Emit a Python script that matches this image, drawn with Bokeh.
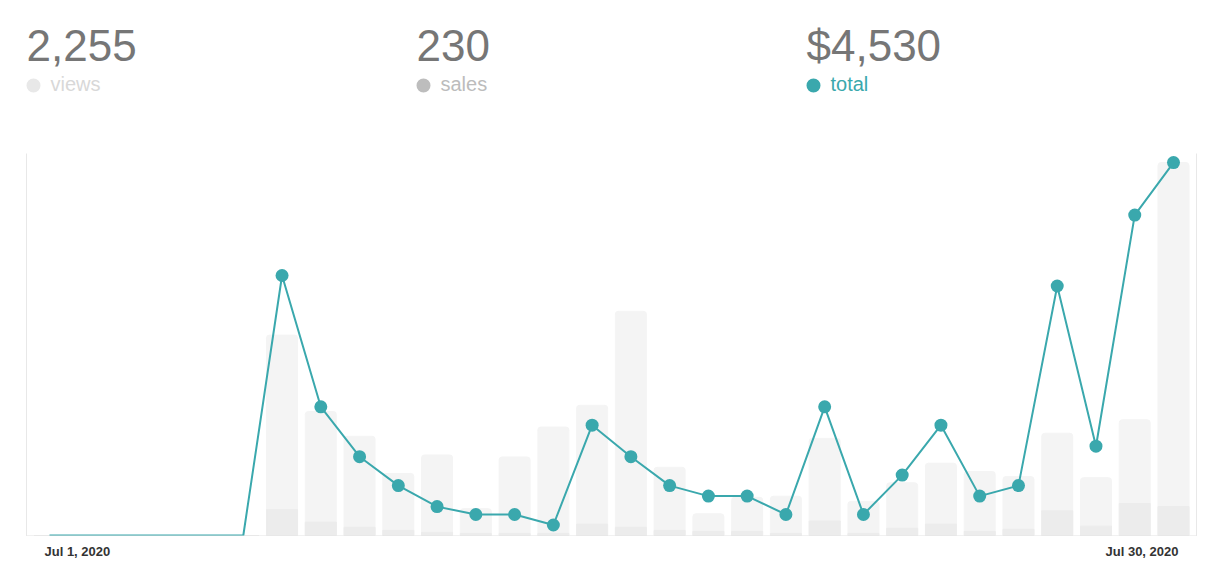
from bokeh.plotting import figure
from bokeh.models import Range1d, LinearAxis, FixedTicker
from bokeh.layouts import column
from bokeh.core.properties import value
from bokeh.embed import file_html
from bokeh.resources import INLINE

# ---- data (July 2020, day of month) ----
days = list(range(1, 31))
views = [0, 0, 0, 0, 0, 0, 194, 120, 96, 60, 78, 26, 76, 105, 126, 217, 66, 21,
         37, 38, 94, 33, 51, 70, 62, 57, 99, 56, 112, 361]
sales = [0, 0, 0, 0, 0, 0, 25, 13, 8, 5, 3, 2, 2, 2, 11, 8, 5, 4,
         4, 2, 14, 2, 7, 11, 4, 6, 24, 9, 31, 28]
total = [0, 0, 0, 0, 0, 0, 495, 245, 150, 95, 55, 40, 40, 20, 210, 150, 95, 75,
         75, 40, 245, 40, 115, 210, 75, 95, 475, 170, 610, 710]
tick_days = [1, 30]
tick_labels = ["Jul 1, 2020", "Jul 30, 2020"]
metric_names = ["views", "sales", "total"]
metric_values = [f"{sum(views):,}", f"{sum(sales):,}", f"${sum(total):,}"]

FONT = "Liberation Sans"
TEAL = "#3aa8ad"
NUM_COLOR = "#767676"
label_colors = ["#d8d8d8", "#bcbcbc", TEAL]
dot_colors = ["#e8e8e8", "#bdbdbd", TEAL]

# ---- header (coordinates in screen pixels) ----
hp = figure(width=1224, height=140, x_range=Range1d(0, 1224), y_range=Range1d(140, 0),
            min_border=0, outline_line_color=None, toolbar_location=None,
            output_backend="svg")
hp.frame_align = False
hp.title.visible = False
hp.axis.visible = False
hp.grid.visible = False
col_x = [26, 416, 806]
hp.text(x=col_x, y=[45] * 3, text=metric_values, text_font=value(FONT),
        text_font_size="44px", text_color=NUM_COLOR, text_baseline="middle",
        text_align="left")
hp.scatter(x=[c + 7 for c in col_x], y=[85] * 3, size=14, color=dot_colors, line_color=None)
hp.text(x=[c + 24 for c in col_x], y=[83] * 3, text=metric_names, text_font=value(FONT),
        text_font_size="20px", text_color=label_colors, text_baseline="middle",
        text_align="left")

# ---- main chart ----
xr = Range1d(0.4066, 30.5934)
p = figure(width=1224, height=396, x_range=xr, y_range=Range1d(-1.9, 727.3),
           min_border_left=26, min_border_right=28, min_border_top=13, min_border_bottom=0,
           outline_line_color=None, toolbar_location=None, output_backend="svg")
p.title.visible = False
p.extra_y_ranges = {"views": Range1d(-0.97, 369.8)}
p.grid.visible = False

for ax in [p.xaxis[0], p.yaxis[0]]:
    ax.ticker = FixedTicker(ticks=[])
    ax.major_tick_line_color = None
    ax.minor_tick_line_color = None
    ax.major_label_text_font_size = "0px"
p.xaxis.axis_line_color = "#e3e3e3"
p.xaxis.axis_line_width = 2
p.yaxis.axis_line_color = "#e8e8e8"
p.yaxis.axis_line_width = 1
rax = LinearAxis(y_range_name="views", ticker=FixedTicker(ticks=[]),
                 major_tick_line_color=None, minor_tick_line_color=None,
                 major_label_text_font_size="0px",
                 axis_line_color="#e8e8e8", axis_line_width=1)
p.add_layout(rax, "right")

p.vbar(x=days, top=views, width=0.8, color="#f4f4f4", y_range_name="views",
       border_radius=(3, 3, 0, 0))
p.vbar(x=days, top=sales, width=0.8, color="#ececec", y_range_name="views")

p.line(days, total, line_width=2, color=TEAL)
mx = [d for d, t in zip(days, total) if t > 0]
my = [t for t in total if t > 0]
p.scatter(mx, my, size=13, color=TEAL, line_color=None)

# ---- footer with the two date labels, sharing the x range ----
fp = figure(width=1224, height=48, x_range=xr, y_range=Range1d(48, 0),
            min_border_left=26, min_border_right=28, min_border_top=0, min_border_bottom=0,
            outline_line_color=None, toolbar_location=None, output_backend="svg")
fp.title.visible = False
fp.axis.visible = False
fp.grid.visible = False
fp.text(x=[tick_days[0]], y=[14.5], text=[tick_labels[0]], x_offset=-5,
        text_align="left", text_baseline="middle", text_font=value(FONT),
        text_font_size="13px", text_font_style="bold", text_color="#333333")
fp.text(x=[tick_days[1]], y=[14.5], text=[tick_labels[1]], x_offset=5,
        text_align="right", text_baseline="middle", text_font=value(FONT),
        text_font_size="13px", text_font_style="bold", text_color="#333333")

layout = column(hp, p, fp, spacing=0)
open("out.html", "w").write(file_html(layout, INLINE))
